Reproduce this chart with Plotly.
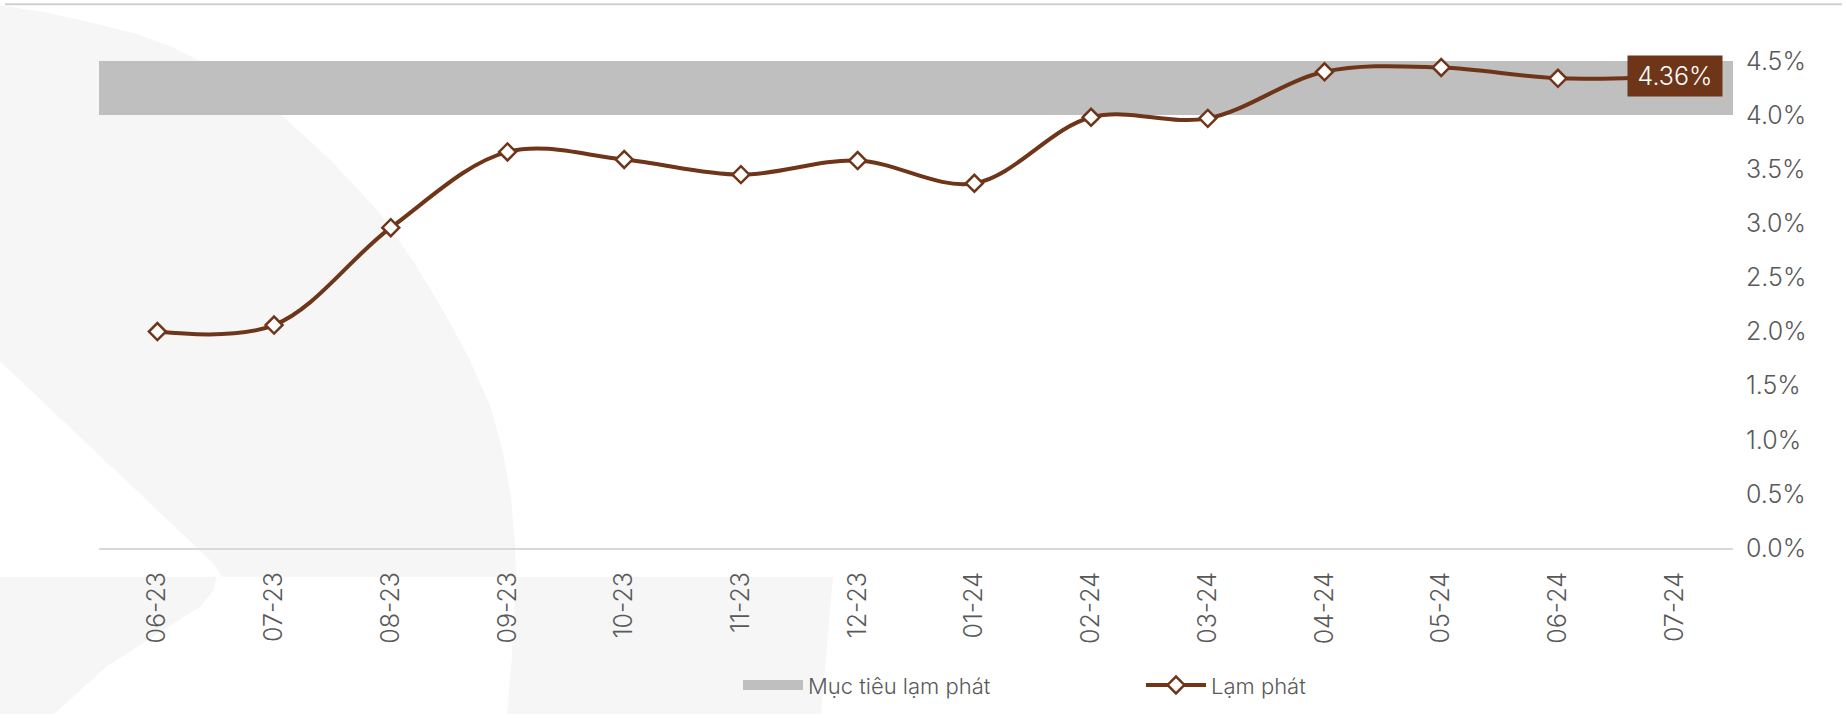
import plotly.graph_objects as go

# ---------------- data ----------------
months = ["06-23", "07-23", "08-23", "09-23", "10-23", "11-23", "12-23",
          "01-24", "02-24", "03-24", "04-24", "05-24", "06-24", "07-24"]
inflation = [2.00, 2.06, 2.96, 3.66, 3.59, 3.45, 3.58,
             3.37, 3.98, 3.97, 4.40, 4.44, 4.34, 4.36]
target_low = [4.0, 4.0, 4.0, 4.0, 4.0, 4.0, 4.0,
              4.0, 4.0, 4.0, 4.0, 4.0, 4.0, 4.0]
target_band = [0.5, 0.5, 0.5, 0.5, 0.5, 0.5, 0.5,
               0.5, 0.5, 0.5, 0.5, 0.5, 0.5, 0.5]
y_ticks = [0.0, 0.5, 1.0, 1.5, 2.0, 2.5, 3.0, 3.5, 4.0, 4.5]
y_tick_labels = ["0.0%", "0.5%", "1.0%", "1.5%", "2.0%",
                 "2.5%", "3.0%", "3.5%", "4.0%", "4.5%"]
name_target = "Mục tiêu lạm phát"
name_infl = "Lạm phát"
last_label = "4.36%"

# ---------------- style ----------------
BROWN = "#6E3519"
BAND = "#BFBFBF"
TXT = "#595959"
FONT = "Inter, Lato, 'Open Sans', sans-serif"
WM = "#F6F6F6"

FIG_W, FIG_H = 1846, 718
L, R, T, B = 99, 113, 61, 167
PW, PH = FIG_W - L - R, FIG_H - T - B


def P(x, y):
    """pixel -> paper coordinates (decoration only)"""
    return (x - L) / PW, (T + PH - y) / PH


def path(points, close=True):
    s = ""
    for i, (x, y) in enumerate(points):
        px, py = P(x, y)
        s += ("M" if i == 0 else "L") + f"{px:.5f},{py:.5f} "
    return s + ("Z" if close else "")


fig = go.Figure()

# target band (bars spanning whole category width)
fig.add_trace(go.Bar(
    x=months, y=target_band, base=target_low,
    marker=dict(color=BAND, line=dict(width=0)),
    width=1, showlegend=False, hoverinfo="skip", name=name_target,
))
# legend entry for the band
fig.add_trace(go.Scatter(
    x=[None], y=[None], mode="lines", name=name_target,
    line=dict(color=BAND, width=13), showlegend=True,
))
# inflation line
fig.add_trace(go.Scatter(
    x=months, y=inflation, mode="lines+markers", name=name_infl,
    line=dict(color=BROWN, width=4, shape="spline", smoothing=1.0),
    marker=dict(symbol="diamond", size=13, color="white",
                line=dict(color=BROWN, width=2.5)),
    cliponaxis=False,
))

# ---------------- watermark decoration ----------------
arcA = [(0, 5), (45, 12), (90, 22), (134, 33), (170, 46), (200, 61), (240, 85),
        (281, 115), (330, 160), (379, 213), (415, 265), (446, 317), (470, 362),
        (491, 410), (503, 455), (511, 500), (515, 547), (516, 580)]
layerA = arcA + [(222, 580), (214, 567), (0, 363)]
layerB_left = [(0, 580), (216, 580), (214, 593), (200, 610), (107, 670), (54, 718), (0, 718)]
layerB_right = [(516, 580), (833, 580), (821, 718), (507, 718), (512, 660), (514, 613)]

shapes = []
for pts in (layerA, layerB_left, layerB_right):
    shapes.append(dict(type="path", xref="paper", yref="paper", path=path(pts),
                       fillcolor=WM, line=dict(width=0), layer="below"))
x0, y0 = P(5, 4)
x1, _ = P(1842, 4)
shapes.append(dict(type="line", xref="paper", yref="paper", x0=x0, x1=x1, y0=y0, y1=y0,
                   line=dict(color="#D0D0D0", width=2), layer="below"))

# last value label
fig.add_annotation(
    x=months[-1], y=inflation[-1], text="\u2009" + last_label + "\u2009",
    showarrow=False, bgcolor=BROWN, borderpad=5,
    font=dict(family=FONT, size=25, color="white", weight=300),
    xanchor="center", yanchor="middle",
)

lx, ly = P(738, 689)
fig.update_layout(
    width=FIG_W, height=FIG_H,
    margin=dict(l=L, r=R, t=T, b=B, pad=0),
    paper_bgcolor="white", plot_bgcolor="rgba(0,0,0,0)",
    shapes=shapes,
    barmode="overlay", bargap=0,
    font=dict(family=FONT, color=TXT, size=20, weight=300),
    showlegend=True,
    legend=dict(orientation="h", x=lx, y=ly, xanchor="left", yanchor="middle",
                font=dict(family=FONT, size=22, color=TXT, weight=300),
                itemwidth=60, entrywidth=328, bgcolor="rgba(0,0,0,0)",
                traceorder="normal"),
    xaxis=dict(
        type="category", range=[-0.5, 13.5],
        showgrid=False, zeroline=False,
        showline=True, linecolor="#D9D9D9", linewidth=2,
        ticks="", tickangle=-90, ticklabelstandoff=12,
        tickfont=dict(family=FONT, size=25, color=TXT, weight=300),
        tickvals=months, ticktext=months,
    ),
    yaxis=dict(
        range=[0, 4.5], side="right",
        showgrid=False, zeroline=False, showline=False,
        tickvals=y_ticks, ticktext=y_tick_labels,
        ticks="", ticklabelstandoff=12,
        tickfont=dict(family=FONT, size=25, color=TXT, weight=300),
    ),
)

fig.write_html("out.html", post_script="document.body.style.margin='0';",
               config={"displayModeBar": False})
